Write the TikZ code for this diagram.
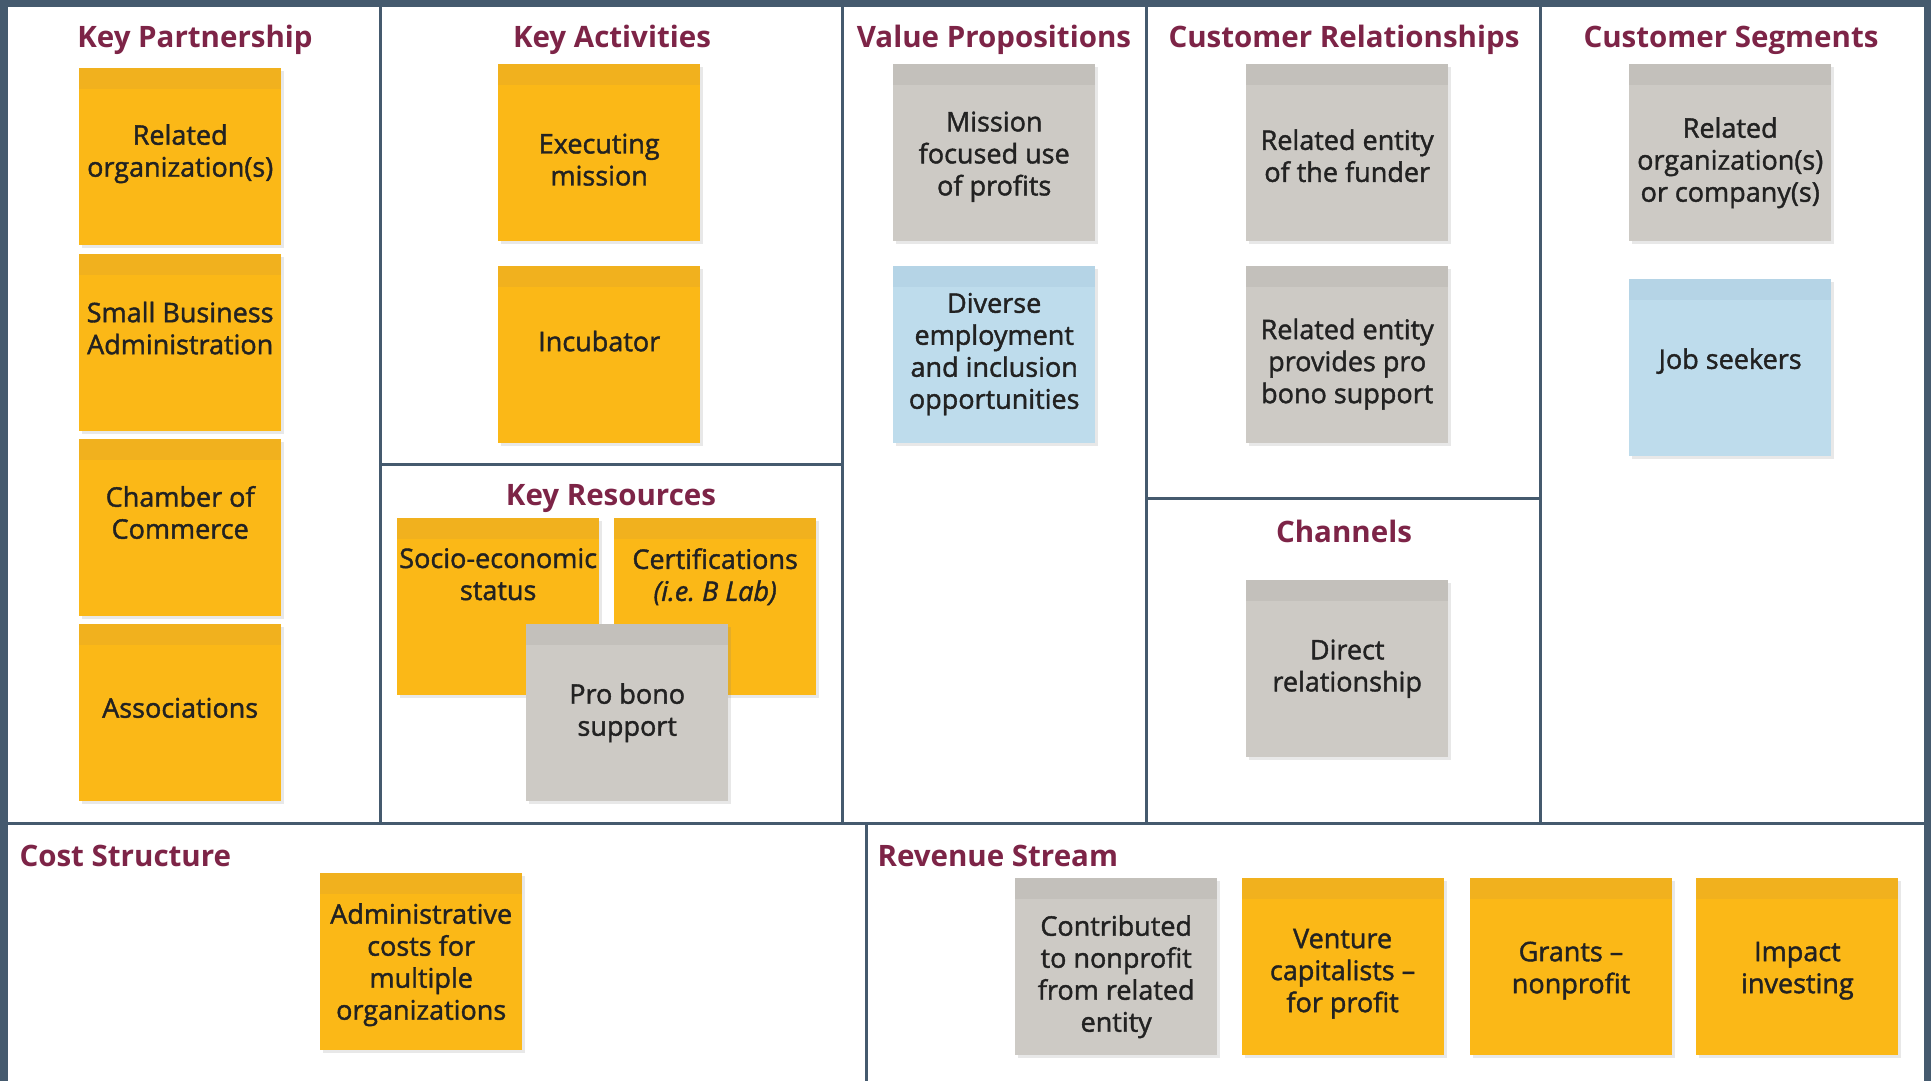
\documentclass[tikz,border=0pt]{standalone}
\usepackage{fontspec}
\setmainfont{Open Sans}
\newfontfamily\notefam{Open Sans}[Ligatures=TeX, FakeBold=1.5]
\usetikzlibrary{positioning, shadows}
\definecolor{ybody}{HTML}{FBB817}
\definecolor{ytop}{HTML}{F1B11E}
\definecolor{gbody}{HTML}{CDCAC5}
\definecolor{gtop}{HTML}{C3C0BB}
\definecolor{bbody}{HTML}{BEDCEC}
\definecolor{btop}{HTML}{B5D4E6}
\definecolor{headc}{HTML}{7D2447}
\definecolor{framec}{HTML}{455A6E}
\definecolor{ink}{HTML}{222222}
\newcommand\notefont{\notefam\fontsize{27}{32}\selectfont}
\newcommand\headfont{\fontsize{29.5}{34}\selectfont\bfseries}
\tikzset{
	x=1pt, y=-1pt, % pixel units, y runs downwards
	note/.style={fill=#1body, minimum width=202pt, minimum height=177pt, inner sep=0pt,
		drop shadow={shadow xshift=3pt, shadow yshift=-3pt, opacity=0.18},
		path picture={\fill[#1top] (path picture bounding box.north west) rectangle ([yshift=-21pt]path picture bounding box.north east);}}, % sticky note, #1 = y, g or b
	txt/.style={align=center, font=\notefont, text=ink, inner sep=0pt}, % text on a note
	head/.style={font=\headfont, text=headc}, % block titles
	rule/.style={draw=framec, line width=3pt}, % block borders
}

\begin{document}
\begin{tikzpicture}
	% frame and blocks
	\fill[framec] (0,0) rectangle (1931,1081);
	\fill[white] (8,7) rectangle (1924,1081);
	\draw[rule] (380,7) -- (380,823)
		(842,7) -- (842,823)
		(1146,7) -- (1146,823)
		(1540,7) -- (1540,823)
		(380,464) -- (842,464)
		(1146,498) -- (1540,498)
		(8,823) -- (1924,823)
		(866,823) -- (866,1081);
	% titles
	\node[head] (kp-t) at (195,40) {Key Partnership};
	\node[head] (ka-t) at (612,40) {Key Activities};
	\node[head] (vp-t) at (994,40) {Value Propositions};
	\node[head] (cr-t) at (1344,40) {Customer Relationships};
	\node[head] (cs-t) at (1731,40) {Customer Segments};
	\node[head] (kr-t) at (611,499) {Key Resources};
	\node[head] (ch-t) at (1344,531) {Channels};
	\node[head, anchor=west] (cost-t) at (16,856) {Cost Structure};
	\node[head, anchor=west] (rev-t) at (874,856) {Revenue Stream};
	% key partnership
	\node[note=y, anchor=north west] (kp1) at (79,68) {};
	\node[note=y, below=8pt of kp1] (kp2) {};
	\node[note=y, below=8pt of kp2] (kp3) {};
	\node[note=y, below=8pt of kp3] (kp4) {};
	\node[txt] (kp1-t) at ([yshift=3pt]kp1) {Related\\organization(s)};
	\node[txt] (kp2-t) at ([yshift=14pt]kp2) {Small Business\\Administration};
	\node[txt] (kp3-t) at ([yshift=15pt]kp3) {Chamber of\\Commerce};
	\node[txt] (kp4-t) at ([yshift=5pt]kp4) {Associations};
	% key activities
	\node[note=y, anchor=north west] (ka1) at (498,64) {};
	\node[note=y, below=24pt of ka1] (ka2) {};
	\node[txt] (ka1-t) at ([yshift=-7pt]ka1) {Executing\\mission};
	\node[txt] (ka2-t) at ([yshift=13pt]ka2) {Incubator};
	% key resources
	\node[note=y, anchor=north west] (kr1) at (397,518) {};
	\node[note=y, anchor=north west] (kr2) at (614,518) {};
	\node[txt, below=30pt of kr1.north] (kr1-t) {Socio-economic\\status};
	\node[txt, below=30pt of kr2.north] (kr2-t) {Certifications\\\textit{(i.e.\ B Lab)}};
	\node[note=g, anchor=north west] (kr3) at (526,624) {};
	\node[txt] (kr3-t) at (kr3) {Pro bono\\support};
	% value propositions
	\node[note=g, anchor=north west] (vp1) at (893,64) {};
	\node[note=b, below=24pt of vp1] (vp2) {};
	\node[txt] (vp1-t) at ([yshift=-4pt]vp1) {Mission\\focused use\\of profits};
	\node[txt] (vp2-t) at (vp2) {Diverse\\employment\\and inclusion\\opportunities};
	% customer relationships
	\node[note=g, anchor=north west] (cr1) at (1246,64) {};
	\node[note=g, below=24pt of cr1] (cr2) {};
	\node[txt] (cr1-t) at ([yshift=-3pt]cr1) {Related entity\\of the funder};
	\node[txt] (cr2-t) at ([yshift=-10pt]cr2) {Related entity\\provides pro\\bono support};
	% channels
	\node[note=g, anchor=north west] (ch1) at (1246,580) {};
	\node[txt] (ch1-t) at (ch1) {Direct\\relationship};
	% customer segments
	\node[note=g, anchor=north west] (cs1) at (1629,64) {};
	\node[note=b, below=37pt of cs1] (cs2) {};
	\node[txt] (cs1-t) at ([yshift=-10pt]cs1) {Related\\organization(s)\\or company(s)};
	\node[txt] (cs2-t) at ([yshift=6pt]cs2) {Job seekers};
	% cost structure
	\node[note=y, anchor=north west] (cost1) at (320,873) {};
	\node[txt] (cost1-t) at ([yshift=-3pt]cost1) {Administrative\\costs for\\multiple\\organizations};
	% revenue stream
	\node[note=g, anchor=north west] (rev1) at (1015,878) {};
	\node[note=y, right=24pt of rev1] (rev2) {};
	\node[note=y, right=26pt of rev2] (rev3) {};
	\node[note=y, right=24pt of rev3] (rev4) {};
	\node[txt] (rev1-t) at ([yshift=-10pt]rev1) {Contributed\\to nonprofit\\from related\\entity};
	\node[txt] (rev2-t) at ([yshift=-7pt]rev2) {Venture\\capitalists --\\for profit};
	\node[txt] (rev3-t) at ([yshift=-4pt]rev3) {Grants --\\nonprofit};
	\node[txt] (rev4-t) at ([yshift=-4pt]rev4) {Impact\\investing};
\end{tikzpicture}
\end{document}
